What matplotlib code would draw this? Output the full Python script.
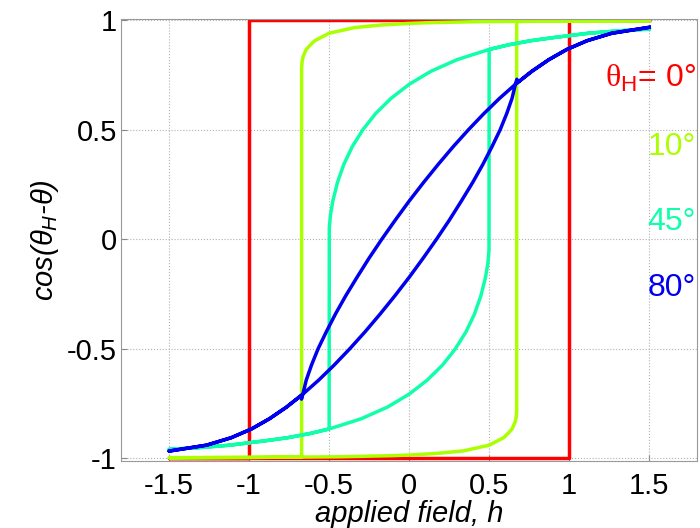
import matplotlib
matplotlib.use('Agg')
import matplotlib.pyplot as plt

plt.rcParams['font.family'] = ['Liberation Sans', 'DejaVu Sans']
plt.rcParams['mathtext.fontset'] = 'custom'
plt.rcParams['mathtext.rm'] = 'Liberation Serif'
plt.rcParams['mathtext.sf'] = 'Liberation Sans'
plt.rcParams['mathtext.it'] = 'Liberation Sans:italic'

# theta_H = 0 deg (square loop)
h0_down = [1.5, -1.0, -1.0, -1.5]
m0_down = [1.0, 1.0, -1.0, -1.0]
h0_up = [-1.5, 1.0, 1.0, 1.5]
m0_up = [-1.0, -1.0, 1.0, 1.0]

# theta_H = 10 deg
h10_down = [1.5, 1.0, 0.43, 0.11, 0.0, -0.17, -0.34, -0.5, -0.59, -0.617, -0.643, -0.662, -0.669, -0.672, -0.672, -1.0, -1.5]
m10_down = [0.997, 0.996, 0.993, 0.988, 0.985, 0.978, 0.966, 0.940, 0.906, 0.887, 0.866, 0.835, 0.81, 0.78, -0.994, -0.996, -0.998]
h10_up = [-1.5, -1.0, -0.43, -0.11, 0.0, 0.17, 0.34, 0.5, 0.59, 0.617, 0.643, 0.662, 0.669, 0.672, 0.672, 1.0, 1.5]
m10_up = [-0.997, -0.996, -0.993, -0.988, -0.985, -0.978, -0.966, -0.940, -0.906, -0.887, -0.866, -0.835, -0.81, -0.78, 0.994, 0.996, 0.998]

# theta_H = 45 deg
h45_down = [1.5, 1.309, 1.12, 0.9, 0.76, 0.62, 0.5, 0.4, 0.298, 0.135, 0.0, -0.113, -0.209, -0.289, -0.355,
            -0.408, -0.448, -0.477, -0.492, -0.499, -0.5, -0.62, -0.76, -0.9, -1.12, -1.309, -1.5]
m45_down = [0.959, 0.951, 0.940, 0.920, 0.906, 0.887, 0.866, 0.843, 0.819, 0.766, 0.707, 0.643, 0.574, 0.500, 0.423,
            0.342, 0.259, 0.174, 0.11, 0.05, -0.866, -0.887, -0.906, -0.920, -0.940, -0.951, -0.959]
h45_up = [-1.5, -1.309, -1.12, -0.9, -0.76, -0.62, -0.5, -0.4, -0.298, -0.135, 0.0, 0.113, 0.209, 0.289, 0.355,
          0.408, 0.448, 0.477, 0.492, 0.499, 0.5, 0.62, 0.76, 0.9, 1.12, 1.309, 1.5]
m45_up = [-0.959, -0.951, -0.940, -0.920, -0.906, -0.887, -0.866, -0.843, -0.819, -0.766, -0.707, -0.643, -0.574, -0.500, -0.423,
          -0.342, -0.259, -0.174, -0.11, -0.05, 0.866, 0.887, 0.906, 0.920, 0.940, 0.951, 0.959]

# theta_H = 80 deg
h80_down = [1.5, 1.266, 1.112, 0.985, 0.872, 0.766, 0.664, 0.565, 0.468, 0.371, 0.276, 0.182, 0.09, 0.0,
            -0.087, -0.171, -0.251, -0.326, -0.397, -0.461, -0.518, -0.569, -0.61, -0.643, -0.664, -0.673,
            -0.673, -0.766, -0.872, -0.985, -1.112, -1.266, -1.5]
m80_down = [0.967, 0.940, 0.906, 0.866, 0.819, 0.766, 0.707, 0.643, 0.574, 0.500, 0.423, 0.342, 0.259, 0.174,
            0.087, 0.0, -0.087, -0.174, -0.259, -0.342, -0.423, -0.500, -0.574, -0.643, -0.707, -0.73,
            -0.712, -0.766, -0.819, -0.866, -0.906, -0.940, -0.967]
h80_up = [-1.5, -1.266, -1.112, -0.985, -0.872, -0.766, -0.664, -0.565, -0.468, -0.371, -0.276, -0.182, -0.09, 0.0,
          0.087, 0.171, 0.251, 0.326, 0.397, 0.461, 0.518, 0.569, 0.61, 0.643, 0.664, 0.673,
          0.673, 0.766, 0.872, 0.985, 1.112, 1.266, 1.5]
m80_up = [-0.967, -0.940, -0.906, -0.866, -0.819, -0.766, -0.707, -0.643, -0.574, -0.500, -0.423, -0.342, -0.259, -0.174,
          -0.087, 0.0, 0.087, 0.174, 0.259, 0.342, 0.423, 0.500, 0.574, 0.643, 0.707, 0.73,
          0.712, 0.766, 0.819, 0.866, 0.906, 0.940, 0.967]

xticks = [-1.5, -1, -0.5, 0, 0.5, 1, 1.5]
xticklabels = ['-1.5', '-1', '-0.5', '0', '0.5', '1', '1.5']
yticks = [-1, -0.5, 0, 0.5, 1]
yticklabels = ['-1', '-0.5', '0', '0.5', '1']

fig = plt.figure(figsize=(7, 5.28), dpi=100)
ax = fig.add_axes([0.173, 0.127, 0.823, 0.837])

lw = 2.5
ax.plot(h0_down + h0_up, m0_down + m0_up, color='#ff0000', lw=lw)
ax.plot(h10_down + h10_up, m10_down + m10_up, color='#aaff00', lw=lw)
ax.plot(h45_down + h45_up, m45_down + m45_up, color='#11ffaa', lw=lw)
ax.plot(h80_down + h80_up, m80_down + m80_up, color='#0000ee', lw=lw)

ax.set_xlim(-1.8, 1.8)
ax.set_ylim(-1.012, 1.005)
ax.set_xticks(xticks)
ax.set_xticklabels(xticklabels)
ax.set_yticks(yticks)
ax.set_yticklabels(yticklabels)
ax.tick_params(labelsize=21, direction='in', length=4, color='#888888', pad=3)
ax.tick_params(axis='x', pad=8)
ax.grid(True, linestyle=':', color='#b0b0b0', lw=0.8)
for s in ax.spines.values():
    s.set_color('#999999')

ax.set_xlabel('applied field, h', fontsize=21, style='italic', labelpad=0)
ax.set_ylabel(r'cos($\theta_H$-$\theta$)', fontsize=21, style='italic', labelpad=4)

ax.text(1.79, 0.735, r'$\mathrm{\theta}_\mathsf{H}$= 0°', color='#ff0000', fontsize=23, ha='right', va='center')
ax.text(1.79, 0.42, '10°', color='#aaff00', fontsize=23, ha='right', va='center')
ax.text(1.79, 0.078, '45°', color='#11ffaa', fontsize=23, ha='right', va='center')
ax.text(1.79, -0.224, '80°', color='#0000ee', fontsize=23, ha='right', va='center')

fig.savefig('out.png', dpi=100)
